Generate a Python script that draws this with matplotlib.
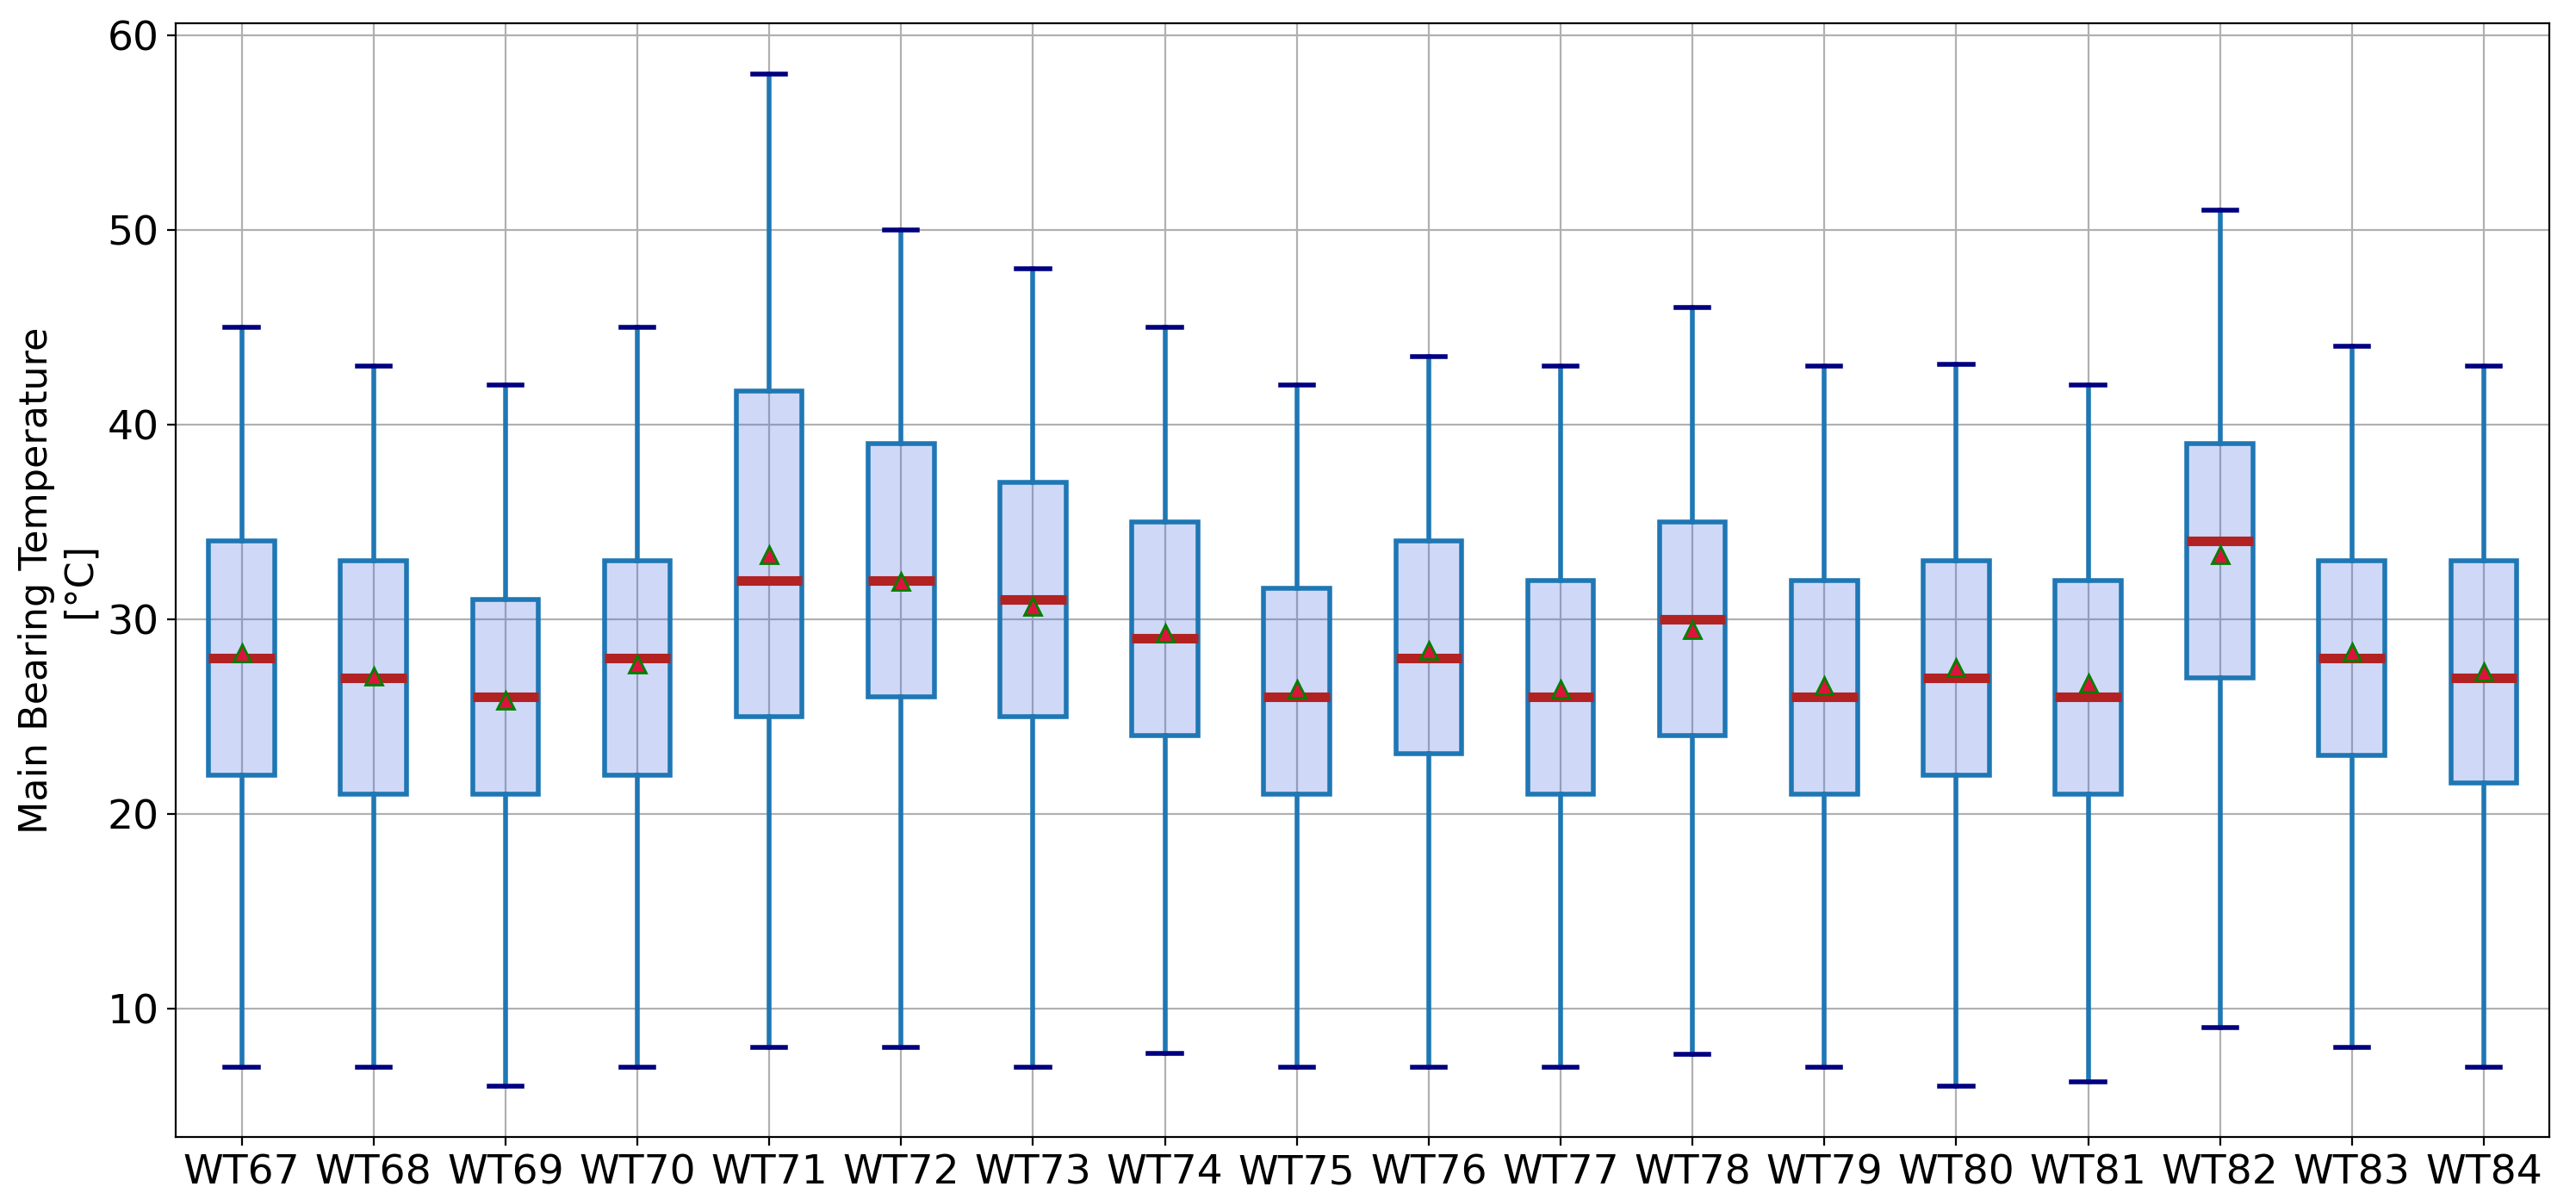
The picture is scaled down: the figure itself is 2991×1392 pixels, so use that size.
import numpy as np
import matplotlib.pyplot as plt

# turbine names and box statistics
turbines = ['WT67', 'WT68', 'WT69', 'WT70', 'WT71', 'WT72', 'WT73', 'WT74', 'WT75',
            'WT76', 'WT77', 'WT78', 'WT79', 'WT80', 'WT81', 'WT82', 'WT83', 'WT84']
whis_lo = [7, 7, 6, 7, 8, 8, 7, 7.7, 7, 7, 7, 7.65, 7, 6, 6.25, 9, 8, 7]
q1 = [22, 21, 21, 22, 25, 26, 25, 24, 21, 23.1, 21, 24, 21, 22, 21, 27, 23, 21.6]
medians = [28, 27, 26, 28, 32, 32, 31, 29, 26, 28, 26, 30, 26, 27, 26, 34, 28, 27]
means = [28.25, 27.05, 25.85, 27.7, 33.3, 31.95, 30.65, 29.3, 26.4, 28.4, 26.4,
         29.45, 26.6, 27.5, 26.7, 33.3, 28.3, 27.3]
q3 = [34, 33, 31, 33, 41.7, 39, 37, 35, 31.6, 34, 32, 35, 32, 33, 32, 39, 33, 33]
whis_hi = [45, 43, 42, 45, 58, 50, 48, 45, 42, 43.5, 43, 46, 43, 43.1, 42, 51, 44, 43]

stats = []
for i in range(len(turbines)):
    stats.append({'label': turbines[i], 'whislo': whis_lo[i], 'q1': q1[i],
                  'med': medians[i], 'mean': means[i], 'q3': q3[i],
                  'whishi': whis_hi[i], 'fliers': []})

fig = plt.figure(figsize=(14.955, 6.96), dpi=200)
ax = fig.add_axes([0.0682, 0.0517, 0.9216, 0.9289])
ax.set_axisbelow(True)
ax.grid(True, color='#b0b0b0', linewidth=0.8)

ax.bxp(stats, showmeans=True, patch_artist=True,
       boxprops=dict(facecolor=(65/255, 105/255, 225/255, 0.25), edgecolor='#1f77b4', linewidth=2),
       whiskerprops=dict(color='#1f77b4', linewidth=2),
       capprops=dict(color='navy', linewidth=2),
       medianprops=dict(color='firebrick', linewidth=4),
       meanprops=dict(marker='^', markerfacecolor='crimson', markeredgecolor='green',
                      markersize=7))

ax.set_ylabel('Main Bearing Temperature\n[°C]', fontsize=16)
ax.tick_params(labelsize=17)

fig.savefig('out.png', dpi=200)
